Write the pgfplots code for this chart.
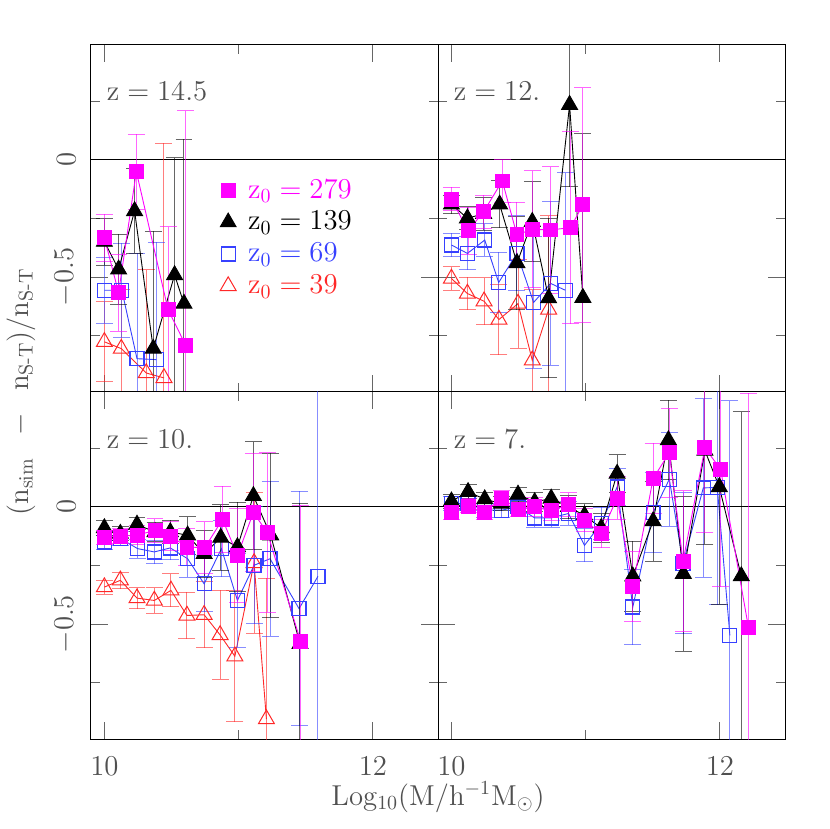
\documentclass[border=0pt]{standalone}
\usepackage{amsmath}
\usepackage{pgfplots}
\usepackage{pgfplotstable}
\pgfplotsset{compat=1.18}
\usepgfplotslibrary{groupplots}
\definecolor{mag}{RGB}{255,0,255}
\definecolor{blu}{RGB}{55,65,255}
\definecolor{rd}{RGB}{255,40,40}
\definecolor{txt}{RGB}{80,80,80}

% ---------- z = 14.5 ----------
\pgfplotstableread{
x y e
10.000 -0.332 0.10
10.106 -0.567 0.165
10.238 -0.050 0.16
10.474 -0.638 0.353
10.605 -0.790 1.00
}\magA
\pgfplotstableread{
x y e
10.000 -0.349 0.10
10.106 -0.467 0.15
10.225 -0.218 0.18
10.364 -0.805 0.50
10.523 -0.491 0.50
10.593 -0.613 0.70
}\blkA
\pgfplotstableread{
x y e
10.000 -0.556 0.14
10.130 -0.556 0.20
10.243 -0.848 0.45
10.387 -0.852 0.50
}\bluA
\pgfplotstableread{
x y e
10.000 -0.776 0.17
10.126 -0.805 0.25
10.312 -0.909 0.44
10.444 -0.930 1.00
}\redA
% ---------- z = 12 ----------
\pgfplotstableread{
x y e
10.000 -0.167 0.05
10.124 -0.303 0.10
10.240 -0.221 0.07
10.379 -0.090 0.09
10.488 -0.320 0.14
10.602 -0.296 0.25
10.739 -0.299 0.27
10.887 -0.289 0.41
10.979 -0.192 0.50
}\magB
\pgfplotstableread{
x y e
10.000 -0.190 0.04
10.119 -0.249 0.05
10.240 -0.230 0.07
10.359 -0.190 0.10
10.488 -0.440 0.20
10.602 -0.264 0.17
10.724 -0.590 0.34
10.880 0.235 0.35
10.979 -0.588 0.70
}\blkB
\pgfplotstableread{
x y e
10.000 -0.363 0.05
10.119 -0.399 0.07
10.248 -0.342 0.07
10.352 -0.523 0.13
10.488 -0.399 0.16
10.612 -0.608 0.28
10.739 -0.527 0.35
10.848 -0.556 0.50
}\bluB
\pgfplotstableread{
x y e
10.000 -0.506 0.05
10.119 -0.570 0.07
10.243 -0.603 0.10
10.354 -0.681 0.15
10.496 -0.613 0.19
10.602 -0.855 0.30
10.724 -0.638 0.40
}\redB
% ---------- z = 10 ----------
\pgfplotstableread{
x y e
10.000 -0.131 0.03
10.119 -0.124 0.03
10.243 -0.121 0.04
10.377 -0.100 0.05
10.491 -0.124 0.06
10.615 -0.171 0.08
10.748 -0.174 0.11
10.880 -0.053 0.14
10.991 -0.207 0.20
11.110 -0.024 0.25
11.214 -0.110 0.34
11.462 -0.574 0.58
}\magC
\pgfplotstableread{
x y e
10.000 -0.090 0.03
10.119 -0.114 0.03
10.243 -0.075 0.03
10.377 -0.107 0.04
10.491 -0.107 0.05
10.620 -0.121 0.08
10.743 -0.200 0.10
10.867 -0.131 0.14
10.991 -0.171 0.19
11.110 0.047 0.23
11.239 -0.121 0.35
11.457 -0.584 0.60
}\blkC
\pgfplotstableread{
x y e
10.000 -0.150 0.03
10.119 -0.135 0.03
10.248 -0.178 0.04
10.372 -0.192 0.05
10.491 -0.175 0.05
10.620 -0.221 0.08
10.743 -0.328 0.12
10.872 -0.178 0.12
10.991 -0.399 0.20
11.115 -0.249 0.25
11.234 -0.221 0.33
11.450 -0.434 0.50
11.591 -0.296 1.00
}\bluC
\pgfplotstableread{
x y e
10.000 -0.342 0.03
10.119 -0.313 0.035
10.243 -0.389 0.045
10.372 -0.399 0.055
10.496 -0.356 0.07
10.615 -0.463 0.10
10.743 -0.460 0.14
10.862 -0.546 0.19
10.972 -0.637 0.28
11.115 -0.239 0.30
11.207 -0.905 0.60
}\redC
% ---------- z = 7 ----------
\pgfplotstableread{
x y e
10.000 -0.024 0.03
10.124 0.004 0.03
10.248 -0.024 0.03
10.372 0.038 0.03
10.496 -0.010 0.03
10.620 0.000 0.04
10.743 -0.017 0.04
10.872 0.010 0.05
10.991 -0.057 0.05
11.115 -0.114 0.06
11.234 0.038 0.09
11.351 -0.339 0.15
11.502 0.121 0.15
11.623 0.231 0.19
11.725 -0.232 0.30
11.888 0.252 0.36
12.005 0.160 0.50
12.213 -0.516 1.00
}\magD
\pgfplotstableread{
x y e
10.000 0.024 0.03
10.124 0.064 0.03
10.248 0.033 0.03
10.372 0.014 0.03
10.496 0.053 0.03
10.620 0.021 0.04
10.743 0.036 0.04
10.872 0.000 0.05
10.991 -0.036 0.05
11.115 -0.090 0.06
11.234 0.142 0.08
11.351 -0.296 0.15
11.502 -0.061 0.17
11.616 0.285 0.17
11.727 -0.285 0.33
11.888 0.240 0.40
11.995 0.085 0.50
12.159 -0.295 0.70
}\blkD
\pgfplotstableread{
x y e
10.000 0.014 0.03
10.124 0.014 0.03
10.248 -0.014 0.03
10.372 -0.014 0.03
10.496 0.000 0.03
10.620 -0.047 0.04
10.743 -0.047 0.04
10.872 -0.028 0.05
10.991 -0.164 0.07
11.115 -0.071 0.07
11.234 0.085 0.08
11.351 -0.427 0.16
11.502 -0.024 0.17
11.623 0.118 0.20
11.725 -0.240 0.30
11.876 0.081 0.38
11.980 0.083 0.50
12.074 -0.548 1.00
}\bluD

\pgfplotsset{
  errsty/.style={error bars/.cd, y dir=both, y explicit,
     error bar style={#1, opacity=0.6, line width=0.5pt},
     error mark options={rotate=90, #1, opacity=0.6, mark size=4.25pt, line width=0.5pt}},
  magsty/.style={forget plot, mag, line width=0.45pt, mark=square*, mark size=3.5pt,
     mark options={solid, fill=mag, draw=mag}, errsty=mag},
  blksty/.style={forget plot, black, line width=0.45pt, mark=triangle*, mark size=4.6pt,
     mark options={solid, fill=black, draw=black}, errsty=black},
  blusty/.style={forget plot, blu, line width=0.45pt, mark=square, mark size=3.5pt,
     mark options={solid, draw=blu, line width=0.6pt}, errsty=blu},
  redsty/.style={forget plot, rd, line width=0.45pt, mark=triangle, mark size=4.6pt,
     mark options={solid, draw=rd, line width=0.5pt}, errsty=rd},
  zerol/.style={forget plot, black, line width=0.5pt, mark=none},
}
\newcommand{\bigf}{\fontsize{14}{16}\selectfont}

\begin{document}
\begin{tikzpicture}
\begin{groupplot}[
  group style={group size=2 by 2, horizontal sep=0pt, vertical sep=0pt,
               xticklabels at=edge bottom, yticklabels at=edge left},
  width=173.75pt, height=173.75pt, scale only axis,
  xmin=9.9, xmax=12.485, ymin=-0.99, ymax=0.49,
  xtick={10,12}, minor xtick={11},
  ytick={-0.5,0}, minor ytick={-0.75,-0.25,0.25},
  major tick length=8.5pt, minor tick length=4.75pt,
  tick style={black!60, line width=0.5pt},
  axis line style={black, line width=0.5pt},
  ticklabel style={font=\bigf, text=txt},
  xticklabel style={inner sep=9pt},
  yticklabel style={rotate=90, anchor=south, inner sep=7.5pt},
]
% ---- top left
\nextgroupplot[legend style={at={(axis cs:10.86,-0.065)}, anchor=north west, draw=none, fill=none,
   inner sep=0pt, row sep=1.2pt, font=\bigf,
   /tikz/every odd column/.append style={column sep=4pt}}, legend cell align=left]
\addplot[zerol] coordinates {(9.9,0) (12.5,0)};
\addplot[redsty] table[x=x,y=y,y error=e] {\redA};
\addplot[blusty] table[x=x,y=y,y error=e] {\bluA};
\addplot[blksty] table[x=x,y=y,y error=e] {\blkA};
\addplot[magsty] table[x=x,y=y,y error=e] {\magA};
\addlegendimage{only marks, mark=square*, color=mag, mark size=3.5pt, mark options={fill=mag, draw=mag}}
\addlegendentry{\textcolor{mag}{$\mathrm{z_0}=279$}}
\addlegendimage{only marks, mark=triangle*, color=black, mark size=4.6pt, mark options={fill=black, draw=black}}
\addlegendentry{\textcolor{black}{$\mathrm{z_0}=139$}}
\addlegendimage{only marks, mark=square, color=blu, mark size=3.5pt, mark options={draw=blu, line width=0.6pt}}
\addlegendentry{\textcolor{blu}{$\mathrm{z_0}=69$}}
\addlegendimage{only marks, mark=triangle, color=rd, mark size=4.6pt, mark options={draw=rd, line width=0.5pt}}
\addlegendentry{\textcolor{rd}{$\mathrm{z_0}=39$}}
\node[anchor=west, inner sep=0pt, text=txt, font=\bigf] at (axis cs:10.015,0.293) {$\mathrm{z}=14.5$};
% ---- top right
\nextgroupplot
\addplot[zerol] coordinates {(9.9,0) (12.5,0)};
\addplot[redsty] table[x=x,y=y,y error=e] {\redB};
\addplot[blusty] table[x=x,y=y,y error=e] {\bluB};
\addplot[blksty] table[x=x,y=y,y error=e] {\blkB};
\addplot[magsty] table[x=x,y=y,y error=e] {\magB};
\node[anchor=west, inner sep=0pt, text=txt, font=\bigf] at (axis cs:10.015,0.293) {$\mathrm{z}=12.$};
% ---- bottom left
\nextgroupplot
\addplot[zerol] coordinates {(9.9,0) (12.5,0)};
\addplot[redsty] table[x=x,y=y,y error=e] {\redC};
\addplot[blusty] table[x=x,y=y,y error=e] {\bluC};
\addplot[blksty] table[x=x,y=y,y error=e] {\blkC};
\addplot[magsty] table[x=x,y=y,y error=e] {\magC};
\node[anchor=west, inner sep=0pt, text=txt, font=\bigf] at (axis cs:10.015,0.29) {$\mathrm{z}=10.$};
% ---- bottom right
\nextgroupplot
\addplot[zerol] coordinates {(9.9,0) (12.5,0)};
\addplot[blusty] table[x=x,y=y,y error=e] {\bluD};
\addplot[blksty] table[x=x,y=y,y error=e] {\blkD};
\addplot[magsty] table[x=x,y=y,y error=e] {\magD};
\node[anchor=west, inner sep=0pt, text=txt, font=\bigf] at (axis cs:10.015,0.29) {$\mathrm{z}=7.$};
\end{groupplot}
\node[text=txt, font=\bigf, yshift=-29pt] at (group c1r2.south east)
  {$\mathrm{Log_{10}(M/h^{-1}M_{\odot})}$};
\node[text=txt, font=\bigf, rotate=90, yshift=35pt] at (group c1r1.south west)
  {$(\mathrm{n_{sim}}\;\;-\;\;\mathrm{n_{S\text{-}T}})/\mathrm{n_{S\text{-}T}}$};
\path (group c1r1.north west) ++(-45pt,22.5pt) rectangle ++(415pt,-415pt);
\end{tikzpicture}
\end{document}
